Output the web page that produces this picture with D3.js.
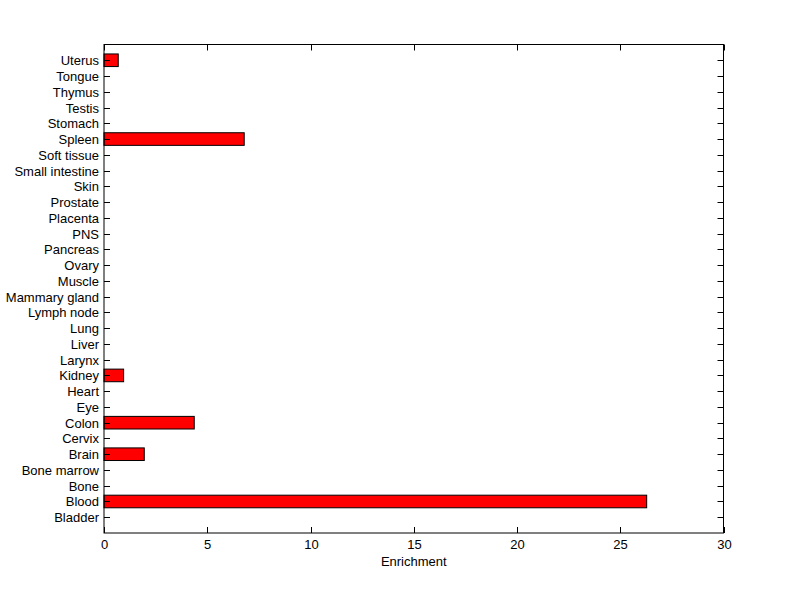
<!DOCTYPE html>
<html lang="en">
<head>
  <meta charset="UTF-8">
  <title>Enrichment by tissue</title>
  <script src="https://d3js.org/d3.v7.min.js"></script>
  <style>
    html, body { margin: 0; padding: 0; background: #fff; }
    svg { display: block; }
    text { font-family: "Liberation Sans", Arial, sans-serif; font-size: 13px; fill: #000; }
  </style>
</head>
<body>
<svg id="canvas" width="800" height="599"></svg>
<script>
  // tissues, bottom to top
  let tissues = ["Bladder", "Blood", "Bone", "Bone marrow", "Brain", "Cervix", "Colon", "Eye",
    "Heart", "Kidney", "Larynx", "Liver", "Lung", "Lymph node", "Mammary gland", "Muscle",
    "Ovary", "Pancreas", "PNS", "Placenta", "Prostate", "Skin", "Small intestine",
    "Soft tissue", "Spleen", "Stomach", "Testis", "Thymus", "Tongue", "Uterus"];
  let enrichment = [0, 26.28, 0, 0, 1.95, 0, 4.37, 0,
    0, 0.95, 0, 0, 0, 0, 0, 0,
    0, 0, 0, 0, 0, 0, 0,
    0, 6.79, 0, 0, 0, 0, 0.69];
  let xTicks = [0, 5, 10, 15, 20, 25, 30];

  let plotLeft = 104, plotRight = 723.5, plotTop = 44.5, plotBottom = 533;
  let canvas = d3.select('#canvas');

  let x = d3.scaleLinear().domain([0, 30]).range([plotLeft, plotRight]);
  // MATLAB style: categories at 1..30 within [0, 31]
  let y = d3.scaleLinear().domain([0, tissues.length + 1]).range([plotBottom, plotTop]);
  let barH = y(0) - y(0.8);

  let rows = tissues.map((t, i) => ({ name: t, value: enrichment[i], pos: i + 1 }));

  // bars
  canvas.selectAll('rect.bar')
    .data(rows.filter(d => d.value > 0))
    .enter()
    .append('rect')
    .attr('class', 'bar')
    .attr('x', x(0))
    .attr('y', d => y(d.pos) - barH / 2)
    .attr('width', d => x(d.value) - x(0))
    .attr('height', barH)
    .attr('fill', '#ff0000')
    .attr('stroke', '#000')
    .attr('stroke-width', 1);

  let tickLen = 6;
  let g = canvas.append('g');

  // y ticks on both sides, pointing inward
  rows.forEach(d => {
    let yy = Math.round(y(d.pos)) + 0.5;
    g.append('line').attr('x1', plotLeft).attr('x2', plotLeft + tickLen).attr('y1', yy).attr('y2', yy).attr('stroke', '#000');
    g.append('line').attr('x1', plotRight - tickLen).attr('x2', plotRight).attr('y1', yy).attr('y2', yy).attr('stroke', '#000');
    g.append('text').attr('x', plotLeft - 5).attr('y', yy).attr('dy', '0.35em')
      .attr('text-anchor', 'end').text(d.name);
  });

  // x ticks on top and bottom
  xTicks.forEach(v => {
    let xx = Math.round(x(v)) + 0.5;
    g.append('line').attr('x1', xx).attr('x2', xx).attr('y1', plotBottom).attr('y2', plotBottom - tickLen).attr('stroke', '#000');
    g.append('line').attr('x1', xx).attr('x2', xx).attr('y1', plotTop).attr('y2', plotTop + tickLen).attr('stroke', '#000');
    g.append('text').attr('x', xx).attr('y', plotBottom + 16).attr('text-anchor', 'middle').text(v);
  });

  // axes box
  canvas.append('rect')
    .attr('x', plotLeft).attr('y', plotTop)
    .attr('width', plotRight - plotLeft).attr('height', plotBottom - plotTop)
    .attr('fill', 'none').attr('stroke', '#000');

  canvas.append('text').attr('x', (plotLeft + plotRight) / 2).attr('y', plotBottom + 33)
    .attr('text-anchor', 'middle').text('Enrichment');
</script>
</body>
</html>
